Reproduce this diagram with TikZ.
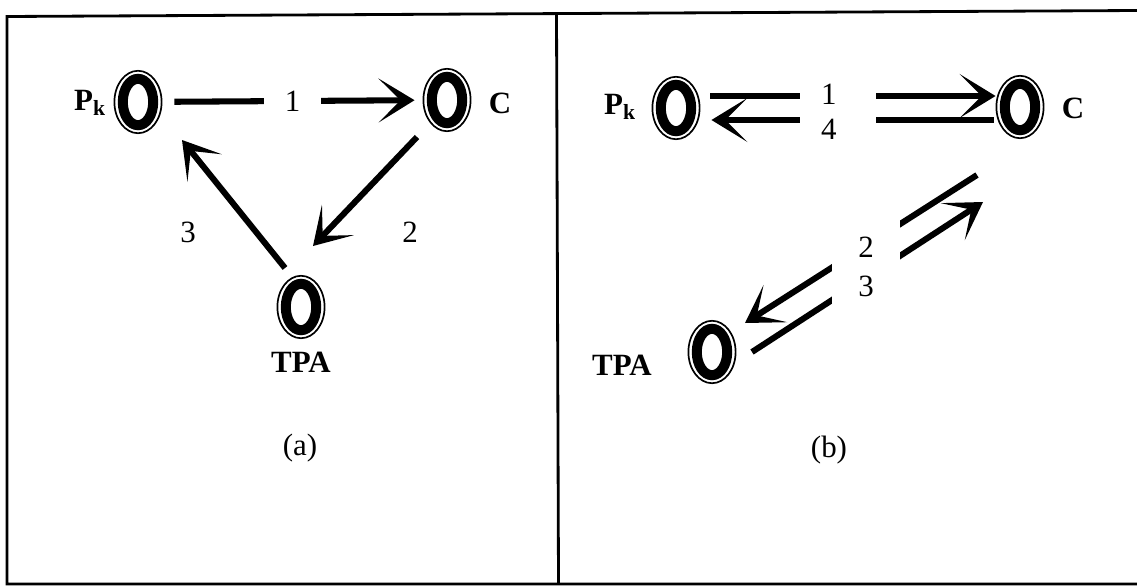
\documentclass[tikz,border=0pt]{standalone}
\usepackage{fontspec}
\setmainfont{Liberation Serif}
\usetikzlibrary{arrows.meta, shapes.geometric}

\begin{document}
\begin{tikzpicture}[x=0.025cm, y=-0.025cm,
    site/.style={ellipse, draw, line width=1.2pt, minimum width=1.18cm, minimum height=1.56cm, inner sep=0pt,
                 path picture={\draw[line width=0.25cm] (path picture bounding box.center) ellipse (0.38cm and 0.58cm);}},
    species/.style={font=\fontsize{22}{26}\selectfont\bfseries, inner sep=1pt},
    num/.style={font=\fontsize{22}{25}\selectfont, inner sep=1pt},
    arrow/.style={-{Stealth[length=9mm, width=11mm, inset=5.5mm]}, line width=4.3pt},
    gap/.style={num, fill=white, align=center},
    frame/.style={line width=2pt},
]
    \useasboundingbox (0,0) rectangle (1137,586);

    % Frame
    \draw[frame] (1137,10.5) -- (7,16.5) -- (7,584) -- (1137,584);
    \draw[frame] (556.5,14) -- (558.5,584);

    % (a) cycle
    \node[site] (pka) at (138,102) {};
    \node[site] (ca) at (447,100) {};
    \node[site] (tpaa) at (301,307) {};
    \node[species] (pkalab) at (90,103) {P\textsubscript{k}};
    \node[species] (calab) at (500,103) {C};
    \node[species] (tpaalab) at (301,362) {TPA};

    \draw[arrow, shorten <=0.3cm, shorten >=0.2cm] (pka) -- node[gap, minimum width=1.425cm] (one) {1} (ca);
    \draw[arrow] ([shift={(-30,37)}]ca.center) -- ([shift={(12,-61)}]tpaa.center);
    \draw[arrow] ([shift={(-16,-39)}]tpaa.center) -- ([shift={(44,38)}]pka.center);
    \node[num] (two) at (410,232) {2};
    \node[num] (three) at (188,232) {3};

    \node[num] (capa) at (300,448) {(a)};

    % (b) reversible steps
    \node[site] (pkb) at (676,108) {};
    \node[site] (cb) at (1020,107) {};
    \node[site] (tpab) at (712,352) {};
    \node[species] (pkblab) at (620,107) {P\textsubscript{k}};
    \node[species] (cblab) at (1073,108) {C};
    \node[species] (tpablab) at (622,365) {TPA};

    \draw[arrow, shorten <=0.25cm] ([shift={(0,-12)}]pkb.east) -- ([shift={(0,-11)}]cb.west);
    \draw[arrow] ([shift={(-2,13)}]cb.west) -- ([shift={(11,12)}]pkb.east);
    \draw[arrow] ([shift={(-43,68)}]cb.center) -- ([shift={(33,-29)}]tpab.center);
    \draw[arrow] ([shift={(40,0)}]tpab.center) -- ([shift={(-37,95)}]cb.center);

    \node[gap, text width=0.85cm, inner xsep=0.525cm, minimum height=1.5cm, align=left] (l14) at (838,112) {1\\4};
    \node[gap, font=\fontsize{22}{28}\selectfont, minimum width=1.7cm, minimum height=2.4cm] (l23) at (866,267) {2\\3};

    \node[num] (capb) at (829,450) {(b)};
\end{tikzpicture}
\end{document}
